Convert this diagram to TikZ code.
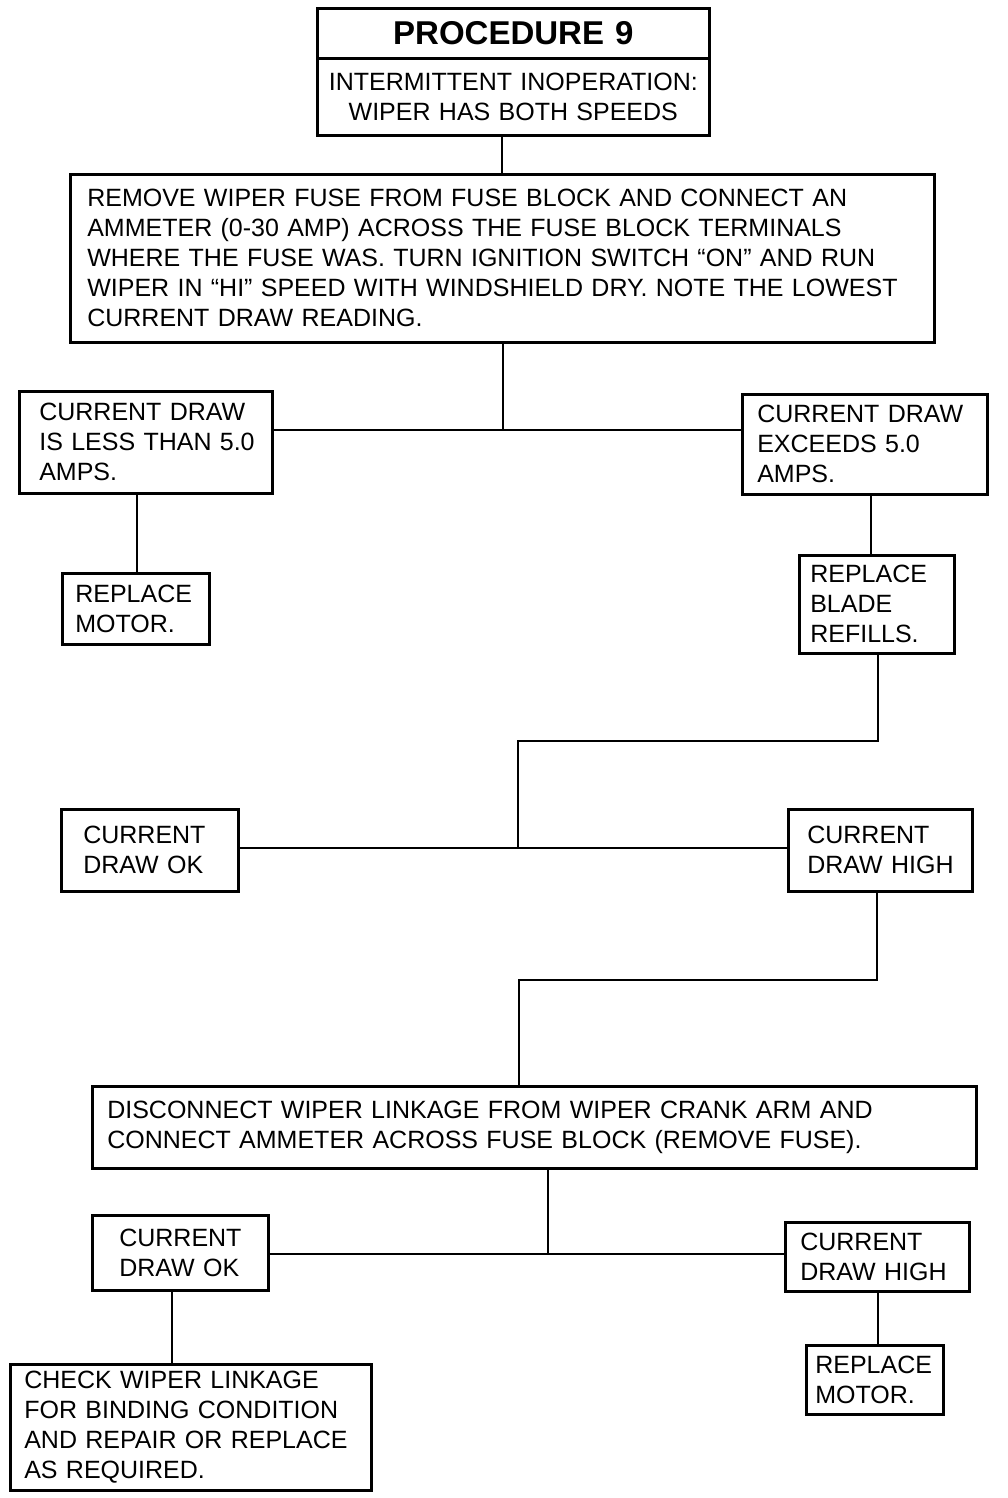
\documentclass[tikz,border=0pt]{standalone}
\usepackage{fontspec}
\setmainfont{Liberation Sans}
\begin{document}
\begin{tikzpicture}[x=1pt,y=-1pt,
  box/.style={draw,line width=2.6pt,anchor=north west,align=left,inner ysep=0pt,
    font=\fontsize{25}{30}\selectfont},
  conn/.style={line width=2.6pt}]
\useasboundingbox (0,0) rectangle (1008,1498);
% helper: \bx{name}{left}{top}{right}{bottom}{pad}{text}
\newcommand\bx[7]{%
  \pgfmathsetmacro\bw{#4-#2}\pgfmathsetmacro\bh{#5-#3}\pgfmathsetmacro\tw{#4-#2-2*#6}%
  \node[box,minimum width=\bw pt,minimum height=\bh pt,text width=\tw pt,inner xsep=#6pt] (#1) at (#2,#3) {#7};}
\node[box,align=center,minimum width=392pt,minimum height=50pt,text width=380pt,inner xsep=6pt,
  font=\fontsize{33}{36}\selectfont\bfseries] (title) at (316,7) {PROCEDURE 9};
\node[box,align=center,minimum width=392pt,minimum height=77pt,text width=380pt,inner xsep=6pt] (sub) at (316,57)
  {\mbox{INTERMITTENT INOPERATION:}\\\mbox{WIPER HAS BOTH SPEEDS}};
\bx{big}{69}{173}{933}{341}{17}{\mbox{REMOVE WIPER FUSE FROM FUSE BLOCK AND CONNECT AN}\\\mbox{AMMETER (0-30 AMP) ACROSS THE FUSE BLOCK TERMINALS}\\\mbox{WHERE THE FUSE WAS. TURN IGNITION SWITCH “ON” AND RUN}\\\mbox{WIPER IN “HI” SPEED WITH WINDSHIELD DRY. NOTE THE LOWEST}\\\mbox{CURRENT DRAW READING.}}
\bx{lo}{18}{390}{271}{492}{20}{\mbox{CURRENT DRAW}\\\mbox{IS LESS THAN 5.0}\\\mbox{AMPS.}}
\bx{hi}{741}{393}{986}{493}{15}{\mbox{CURRENT DRAW}\\\mbox{EXCEEDS 5.0}\\\mbox{AMPS.}}
\bx{rmA}{61}{572}{208}{643}{13}{\mbox{REPLACE}\\\mbox{MOTOR.}}
\bx{blade}{798}{554}{953}{652}{11}{\mbox{REPLACE}\\\mbox{BLADE}\\\mbox{REFILLS.}}
\bx{okA}{60}{808}{237}{890}{22}{\mbox{CURRENT}\\\mbox{DRAW OK}}
\bx{highA}{787}{808}{971}{890}{19}{\mbox{CURRENT}\\\mbox{DRAW HIGH}}
\bx{disc}{91}{1085}{975}{1167}{15}{\mbox{DISCONNECT WIPER LINKAGE FROM WIPER CRANK ARM AND}\\\mbox{CONNECT AMMETER ACROSS FUSE BLOCK (REMOVE FUSE).}}
\bx{okB}{91}{1214}{267}{1289}{27}{\mbox{CURRENT}\\\mbox{DRAW OK}}
\bx{highB}{784}{1221}{968}{1290}{15}{\mbox{CURRENT}\\\mbox{DRAW HIGH}}
\bx{check}{9}{1363}{370}{1489}{14}{\mbox{CHECK WIPER LINKAGE}\\\mbox{FOR BINDING CONDITION}\\\mbox{AND REPAIR OR REPLACE}\\\mbox{AS REQUIRED.}}
\bx{rmB}{805}{1344}{942}{1413}{9}{\mbox{REPLACE}\\\mbox{MOTOR.}}
% connectors
\coordinate (c0) at (502,0);
\draw[conn] (sub.south -| c0) -- (big.north -| c0);
\coordinate (j1) at (503,430);
\draw[conn] (big.south -| j1) -- (j1);
\draw[conn] (lo.east |- j1) -- (hi.west |- j1);
\coordinate (c1) at (137,0);
\draw[conn] (lo.south -| c1) -- (rmA.north -| c1);
\coordinate (c2) at (871,0);
\draw[conn] (hi.south -| c2) -- (blade.north -| c2);
\coordinate (b1) at (878,741);
\coordinate (j2) at (518,848);
\draw[conn] (blade.south -| b1) -- (b1) -- (b1 -| j2) -- (j2);
\draw[conn] (okA.east |- j2) -- (highA.west |- j2);
\coordinate (b2) at (877,980);
\coordinate (c3) at (519,0);
\draw[conn] (highA.south -| b2) -- (b2) -- (b2 -| c3) -- (disc.north -| c3);
\coordinate (j3) at (548,1254);
\draw[conn] (disc.south -| j3) -- (j3);
\draw[conn] (okB.east |- j3) -- (highB.west |- j3);
\coordinate (c4) at (172,0);
\draw[conn] (okB.south -| c4) -- (check.north -| c4);
\coordinate (c5) at (878,0);
\draw[conn] (highB.south -| c5) -- (rmB.north -| c5);
\end{tikzpicture}
\end{document}
